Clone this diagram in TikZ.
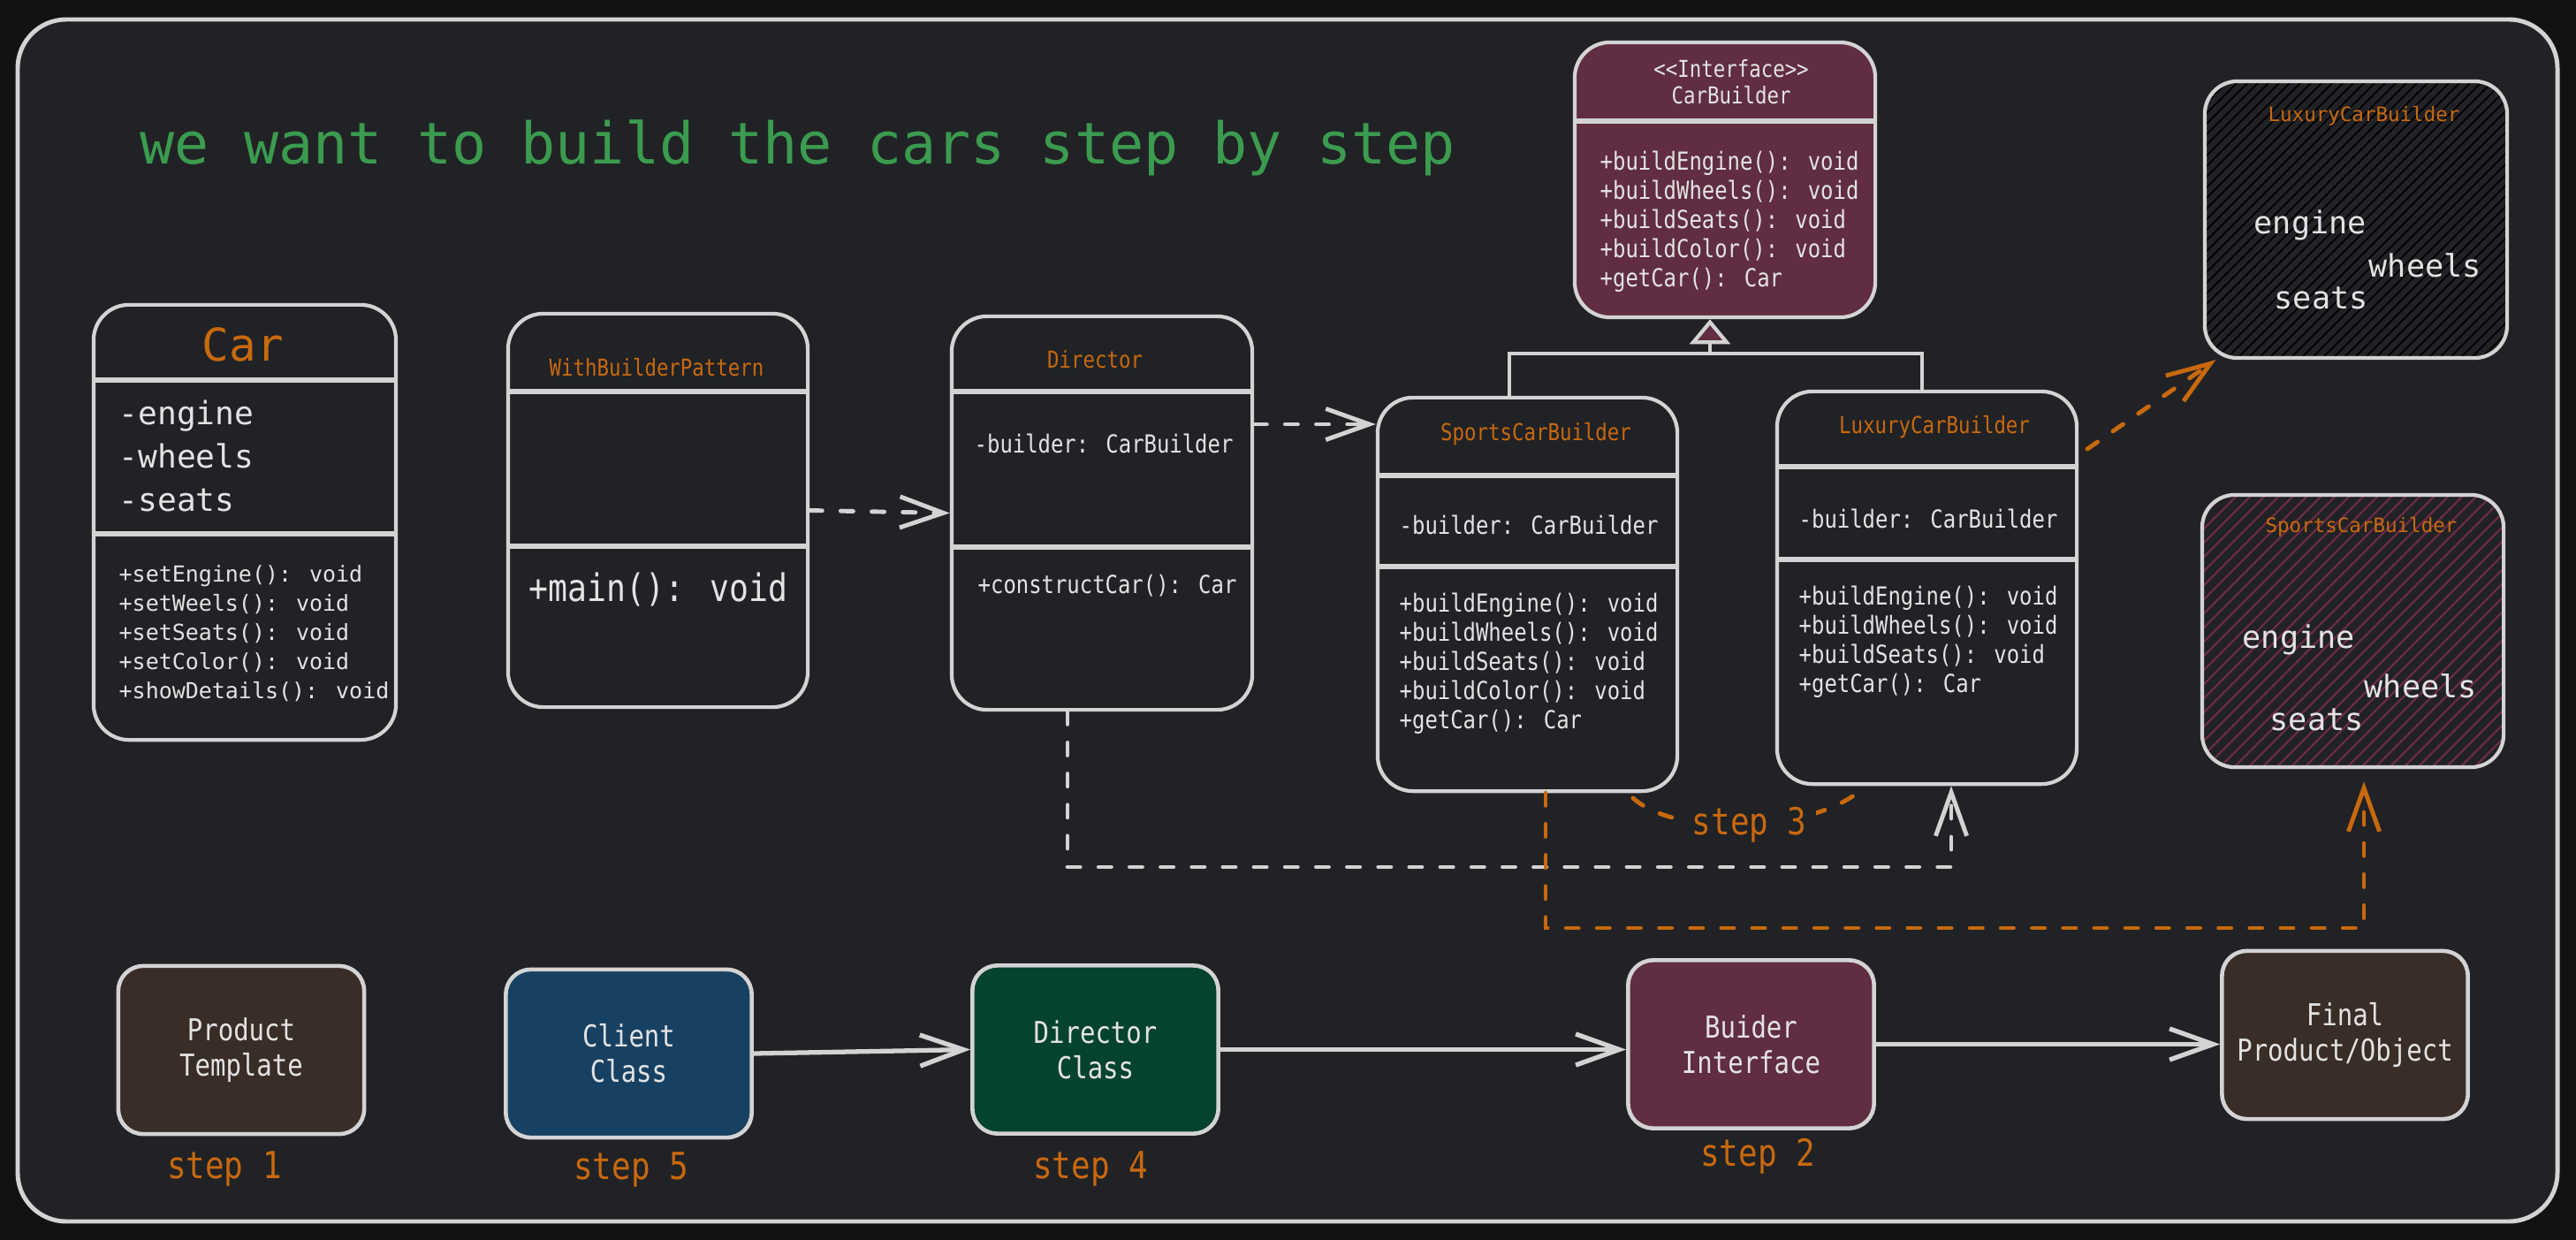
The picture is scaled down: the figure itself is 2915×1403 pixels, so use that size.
\documentclass[tikz,border=0pt]{standalone}
\usepackage{fontspec}
\usetikzlibrary{arrows.meta,calc}
\newfontfamily\mono{DejaVu Sans Mono}
\newfontfamily\cond[FakeStretch=0.85]{DejaVu Sans Mono}
\newcommand\myfs[2]{\fontsize{#1pt}{#2pt}\selectfont}
\definecolor{outerbg}{HTML}{121212}
\definecolor{panel}{HTML}{212226}
\definecolor{strokec}{HTML}{D3D3D3}
\definecolor{txt}{HTML}{E3E3E3}
\definecolor{orangec}{HTML}{C8690E}
\definecolor{greent}{HTML}{3B9B4F}
\definecolor{maroonc}{HTML}{602D42}
\definecolor{bluec}{HTML}{174162}
\definecolor{greenc}{HTML}{044330}
\definecolor{brownc}{HTML}{392D28}
\definecolor{hatchm}{HTML}{6E2C46}
\begin{document}
\begin{tikzpicture}[x=0.01cm,y=-0.01cm,
  box/.style={draw=strokec, line width=1.2pt, rounded corners=0.4cm, inner sep=0pt},
  sbox/.style={draw=strokec, line width=1.3pt, rounded corners=0.28cm, inner sep=0pt,
     minimum width=2.78cm, minimum height=1.9cm, align=center, text=txt, font=\cond\myfs{9.7}{11.4}},
  div/.style={draw=strokec, line width=1.5pt},
  wt/.style={text=txt, inner sep=0pt},
  ot/.style={text=orangec, inner sep=0pt},
  stp/.style={text=orangec, inner sep=0pt, font=\cond\myfs{12}{14}},
  arr/.style={-{Straight Barb[length=14pt,width=10pt]}},
  wdash/.style={draw=strokec, line width=1.4pt, dash pattern=on 4pt off 6pt, line cap=round},
  odash/.style={draw=orangec, line width=1.4pt, dash pattern=on 4pt off 6pt, line cap=round},
  sarrow/.style={draw=strokec, line width=1.5pt, arr},
  ln/.style={draw=strokec, line width=1.2pt}
]
\fill[outerbg] (0,0) rectangle (2915,1403);
\useasboundingbox (0,0) rectangle (2915,1403);
\draw[strokec, line width=1.4pt, fill=panel, rounded corners=0.55cm] (20,22) rectangle (2894,1382);

% title
\node[text=greent, inner sep=0pt, anchor=west, font=\mono\myfs{18.5}{22}] (title) at (158,167) {we want to build the cars step by step};

% ---- hatching of the two result boxes
\begin{scope}
\clip[rounded corners=0.37cm] (2495,92) rectangle (2837,405);
\foreach \x in {2160,2172,...,2850} \draw[black, line width=0.5pt] (\x,405) -- ++(360,-360);
\end{scope}
\begin{scope}
\clip[rounded corners=0.37cm] (2492,560) rectangle (2833,868);
\foreach \x in {2160,2176,...,2850} \draw[hatchm, line width=0.6pt] (\x,868) -- ++(360,-360);
\end{scope}

% ---- UML boxes
\node[box, minimum width=3.42cm, minimum height=4.92cm] (car) at (277,591) {};
\node[box, minimum width=3.39cm, minimum height=4.45cm] (wbp) at (744.5,577.5) {};
\node[box, minimum width=3.40cm, minimum height=4.45cm] (dir) at (1247,580.5) {};
\node[box, minimum width=3.39cm, minimum height=4.45cm] (sc) at (1728.5,672.5) {};
\node[box, minimum width=3.39cm, minimum height=4.44cm] (lc) at (2180.5,665) {};
\node[box, fill=maroonc, minimum width=3.40cm, minimum height=3.11cm] (cb) at (1952,203.5) {};
\node[box, rounded corners=0.37cm, minimum width=3.42cm, minimum height=3.13cm] (hl) at (2666,248.5) {};
\node[box, rounded corners=0.37cm, minimum width=3.41cm, minimum height=3.08cm] (hs) at (2662.5,714) {};

% dividers
\draw[div] (106,430) -- (448,430);
\draw[div] (106,604) -- (448,604);
\draw[div] (575,443) -- (914,443);
\draw[div] (575,618) -- (914,618);
\draw[div] (1077,443) -- (1417,443);
\draw[div] (1077,619) -- (1417,619);
\draw[div] (1559,538) -- (1898,538);
\draw[div] (1559,641) -- (1898,641);
\draw[div] (2011,528) -- (2350,528);
\draw[div] (2011,633) -- (2350,633);
\draw[div] (1782,137) -- (2122,137);

% Car texts
\node[ot, font=\mono\myfs{14.5}{16}] (carT) at (275,390) {Car};
\node[wt, anchor=west, align=left, font=\mono\myfs{10.3}{14}] (carA) at (134,516) {-engine\\-wheels\\-seats};
\node[wt, anchor=west, align=left, font=\mono\myfs{7.1}{9.4}] (carM) at (134,717) {+setEngine(): void\\+setWeels(): void\\+setSeats(): void\\+setColor(): void\\+showDetails(): void};

% WithBuilderPattern
\node[ot, font=\cond\myfs{7.5}{9}] (wbpT) at (743,416) {WithBuilderPattern};
\node[wt, font=\cond\myfs{12.2}{14}] (wbpM) at (745,667) {+main(): void};

% Director
\node[ot, font=\cond\myfs{7.5}{9}] (dirT) at (1239,407) {Director};
\node[wt, anchor=west, font=\cond\myfs{8}{9.4}] (dirA) at (1102,502) {-builder: CarBuilder};
\node[wt, anchor=west, font=\cond\myfs{8}{9.4}] (dirM) at (1106,663) {+constructCar(): Car};

% SportsCarBuilder
\node[ot, font=\cond\myfs{7.5}{9}] (scT) at (1738,491) {SportsCarBuilder};
\node[wt, anchor=west, font=\cond\myfs{8}{9.4}] (scA) at (1583,594) {-builder: CarBuilder};
\node[wt, anchor=west, align=left, font=\cond\myfs{8}{9.4}] (scM) at (1583,751) {+buildEngine(): void\\+buildWheels(): void\\+buildSeats(): void\\+buildColor(): void\\+getCar(): Car};

% LuxuryCarBuilder
\node[ot, font=\cond\myfs{7.5}{9}] (lcT) at (2189,483) {LuxuryCarBuilder};
\node[wt, anchor=west, font=\cond\myfs{8}{9.4}] (lcA) at (2035,587) {-builder: CarBuilder};
\node[wt, anchor=west, align=left, font=\cond\myfs{8}{9.4}] (lcM) at (2035,726.5) {+buildEngine(): void\\+buildWheels(): void\\+buildSeats(): void\\+getCar(): Car};

% CarBuilder interface
\node[wt, align=center, font=\cond\myfs{7.5}{8.5}] (cbT) at (1959,93) {<{}<Interface>{}>\\CarBuilder};
\node[wt, anchor=west, align=left, font=\cond\myfs{8}{9.4}] (cbM) at (1810,251) {+buildEngine(): void\\+buildWheels(): void\\+buildSeats(): void\\+buildColor(): void\\+getCar(): Car};

% hatched result boxes
\node[ot, font=\mono\myfs{6.4}{8}] (hlT) at (2675,131) {LuxuryCarBuilder};
\node[wt, anchor=west, font=\mono\myfs{10}{12}] (hlE) at (2550,255) {engine};
\node[wt, anchor=west, font=\mono\myfs{10}{12}] (hlW) at (2680,300) {wheels};
\node[wt, anchor=west, font=\mono\myfs{10}{12}] (hlS) at (2573,337) {seats};
\node[ot, font=\mono\myfs{6.4}{8}] (hsT) at (2672,596) {SportsCarBuilder};
\node[wt, anchor=west, font=\mono\myfs{10}{12}] (hsE) at (2537,724) {engine};
\node[wt, anchor=west, font=\mono\myfs{10}{12}] (hsW) at (2675,776) {wheels};
\node[wt, anchor=west, font=\mono\myfs{10}{12}] (hsS) at (2568,814) {seats};

% bottom row
\node[sbox, fill=brownc] (pt) at (273,1188) {Product\\Template};
\node[sbox, fill=bluec] (cc) at (711.5,1192) {Client\\Class};
\node[sbox, fill=greenc] (dc) at (1239.5,1187.5) {Director\\Class};
\node[sbox, fill=maroonc] (bi) at (1981.5,1181.5) {Buider\\Interface};
\node[sbox, fill=brownc] (fp) at (2653.5,1171) {Final\\Product/Object};

\node[stp] (s1) at (254,1322) {step 1};
\node[stp] (s5) at (714,1323) {step 5};
\node[stp] (s4) at (1234,1322) {step 4};
\node[stp] (s2) at (1989,1308) {step 2};

\draw[sarrow] (cc.east) -- (dc.west);
\draw[sarrow] (dc.east) -- (bi.west |- dc.east);
\draw[sarrow] (bi.east) -- (fp.west |- bi.east);

% connectors in the upper part
\draw[wdash, arr] (wbp.east) -- (dir.west);
\coordinate (d1) at (1420,480);
\draw[wdash, arr] (dir.east |- d1) -- (sc.west |- d1);

% inheritance
\coordinate (h1) at (1708,400);
\coordinate (h2) at (2175,400);
\coordinate (tr) at (1935,400);
\draw[ln] (sc.north -| h1) -- (h1) -- (h2) -- (lc.north -| h2);
\draw[ln, -{Triangle[length=8pt,width=13pt,fill=maroonc]}] (tr) -- (cb.south -| tr);

% director -> luxury
\coordinate (e1) at (1208,981);
\coordinate (e2) at (2208,981);
\draw[wdash, arr] (dir.south -| e1) -- (e1) -- (e2) -- (lc.south -| e2);

% sports -> hatched sports
\coordinate (o1) at (1749,1050);
\coordinate (o2) at (2675,1050);
\draw[odash, arr, shorten >=4pt] (sc.south -| o1) -- (o1) -- (o2) -- (hs.south -| o2);

% luxury -> hatched luxury
\coordinate (l1) at (2362,508);
\draw[odash, arr] (l1) -- (hl.225);

% step 3 curve
\coordinate (c1) at (1848,903);
\coordinate (c2) at (2110,890);
\draw[odash] (c1) .. controls (1900,950) and (2060,940) .. (c2)
  node[pos=0.5, fill=panel, inner sep=3pt, text=orangec, font=\cond\myfs{12}{14}] (s3) {step 3};
\end{tikzpicture}
\end{document}
